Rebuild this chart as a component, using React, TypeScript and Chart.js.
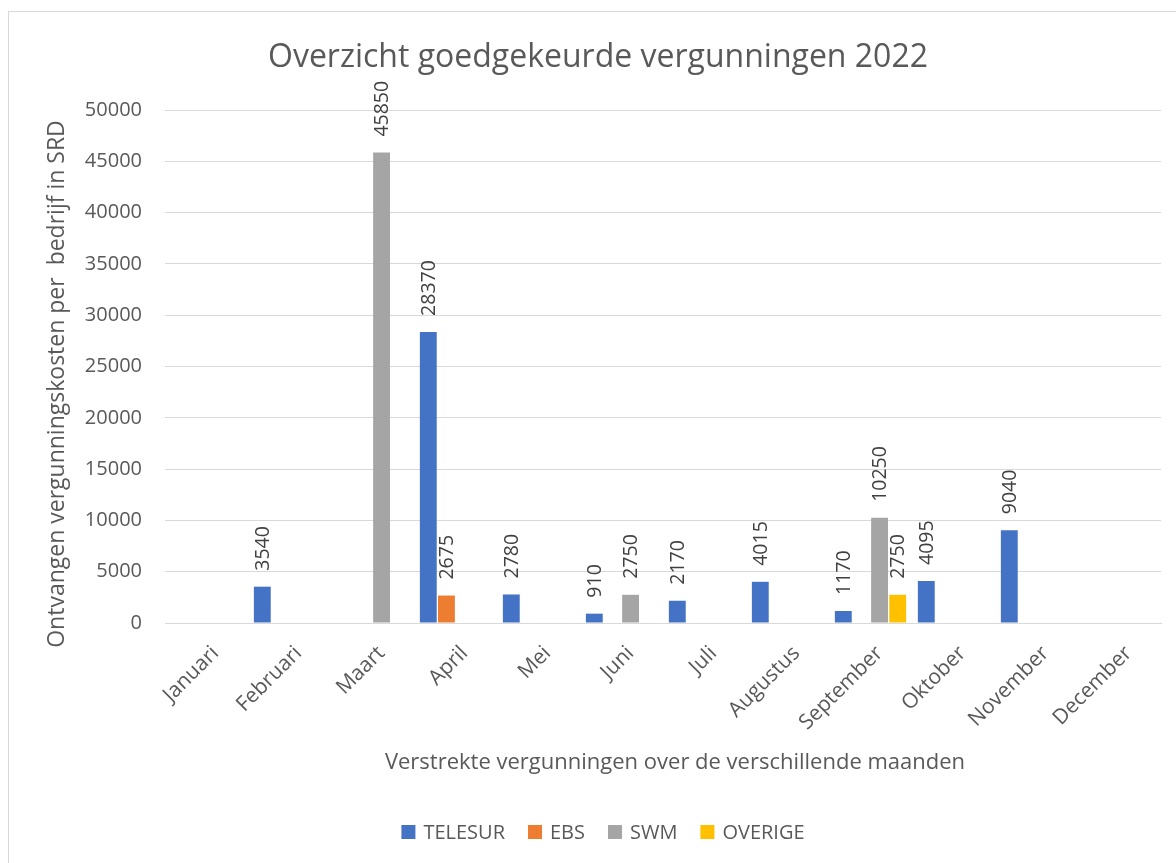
import React, { useEffect, useRef } from 'react';
import { Chart, registerables } from 'chart.js';

Chart.register(...registerables);

const months = ['Januari', 'Februari', 'Maart', 'April', 'Mei', 'Juni', 'Juli', 'Augustus', 'September', 'Oktober', 'November', 'December'];
const telesur = [null, 3540, null, 28370, 2780, 910, 2170, 4015, 1170, 4095, 9040, null];
const ebs = [null, null, null, 2675, null, null, null, null, null, null, null, null];
const swm = [null, null, 45850, null, null, 2750, null, null, 10250, null, null, null];
const overige = [null, null, null, null, null, null, null, null, 2750, null, null, null];
const seriesNames = ['TELESUR', 'EBS', 'SWM', 'OVERIGE'];
const seriesColors = ['#4472C4', '#ED7D31', '#A5A5A5', '#FFC000'];
const yMin = 0;
const yMax = 50000;
const yStep = 5000;
const chartTitle = 'Overzicht goedgekeurde vergunningen 2022';
const yTitle = 'Ontvangen vergunningskosten per  bedrijf in SRD';
const xTitle = 'Verstrekte vergunningen over de verschillende maanden';

const FONT = "'Open Sans', 'Noto Sans', sans-serif";
const TEXT = '#595959';

const decorPlugin = {
  id: 'decor',
  beforeDraw(chart: any) {
    const ctx = chart.ctx;
    ctx.save();
    ctx.fillStyle = '#FFFFFF';
    ctx.fillRect(0, 0, chart.width, chart.height);
    ctx.strokeStyle = '#D9D9D9';
    ctx.lineWidth = 1;
    ctx.strokeRect(8.5, 11.5, chart.width + 50, chart.height + 50);
    ctx.restore();
  },
  afterDraw(chart: any) {
    const ctx = chart.ctx;
    ctx.save();
    ctx.fillStyle = TEXT;
    // title
    ctx.font = `32px ${FONT}`;
    ctx.textAlign = 'center';
    ctx.textBaseline = 'alphabetic';
    ctx.fillText(chartTitle, 598, 67);
    // x title
    ctx.font = `22px ${FONT}`;
    ctx.fillText(xTitle, 675, 769);
    // y title
    ctx.save();
    ctx.font = `23px ${FONT}`;
    ctx.translate(64, 384);
    ctx.rotate(-Math.PI / 2);
    ctx.fillText(yTitle, 0, 0);
    ctx.restore();
    // legend
    ctx.font = `20px ${FONT}`;
    ctx.textAlign = 'left';
    const box = 14;
    const gapBox = 8;
    const gapItem = 23;
    const widths = seriesNames.map((n) => ctx.measureText(n).width);
    const total = widths.reduce((a, w) => a + box + gapBox + w, 0) + gapItem * (seriesNames.length - 1);
    let x = 603 - total / 2;
    seriesNames.forEach((n, i) => {
      ctx.fillStyle = seriesColors[i];
      ctx.fillRect(x, 825, box, box);
      ctx.fillStyle = TEXT;
      ctx.fillText(n, x + box + gapBox, 839);
      x += box + gapBox + widths[i] + gapItem;
    });
    ctx.restore();
  },
};

const labelPlugin = {
  id: 'barLabels',
  afterDatasetsDraw(chart: any) {
    const ctx = chart.ctx;
    ctx.save();
    ctx.font = `19.5px ${FONT}`;
    ctx.fillStyle = '#404040';
    ctx.textAlign = 'left';
    ctx.textBaseline = 'middle';
    chart.data.datasets.forEach((ds: any, di: number) => {
      const meta = chart.getDatasetMeta(di);
      meta.data.forEach((el: any, i: number) => {
        const v = ds.data[i];
        if (v === null || v === undefined) return;
        ctx.save();
        ctx.translate(el.x + 1, el.y - 16);
        ctx.rotate(-Math.PI / 2);
        ctx.fillText(String(v), 0, 0);
        ctx.restore();
      });
    });
    ctx.restore();
  },
};

export default function App() {
  const ref = useRef<HTMLCanvasElement | null>(null);
  useEffect(() => {
    if (!ref.current) return;
    const series = [telesur, ebs, swm, overige];
    const chart = new Chart(ref.current, {
      type: 'bar',
      data: {
        labels: months,
        datasets: series.map((d, i) => ({
          label: seriesNames[i],
          data: d,
          backgroundColor: seriesColors[i],
          borderWidth: 0,
          categoryPercentage: 0.874,
          barPercentage: 0.93,
        })),
      },
      options: {
        responsive: false,
        maintainAspectRatio: false,
        animation: false,
        devicePixelRatio: 1,
        events: [],
        layout: { padding: { left: 0, right: 15, top: 110, bottom: 0 } },
        plugins: {
          legend: { display: false },
          title: { display: false },
          tooltip: { enabled: false },
        },
        scales: {
          x: {
            grid: { display: false, drawTicks: false },
            border: { display: true, color: '#D9D9D9', width: 1 },
            ticks: {
              color: TEXT,
              font: { family: FONT, size: 21 },
              minRotation: 45,
              maxRotation: 45,
              padding: 18,
              labelOffset: 9,
              autoSkip: false,
            },
            afterFit(scale: any) {
              scale.height = 240;
            },
          },
          y: {
            min: yMin,
            max: yMax,
            grid: { color: '#D9D9D9', lineWidth: 1, drawTicks: false },
            border: { display: false },
            ticks: {
              stepSize: yStep,
              color: TEXT,
              font: { family: FONT, size: 20 },
              padding: 23,
              callback: (v: any) => String(v),
            },
            afterFit(scale: any) {
              scale.width = 165;
            },
          },
        },
      },
      plugins: [decorPlugin, labelPlugin],
    });
    return () => chart.destroy();
  }, []);
  return (
    <div style={{ position: 'fixed', left: 0, top: 0, width: 1176, height: 863, background: '#fff' }}>
      <canvas ref={ref} width={1176} height={863} style={{ display: 'block', width: 1176, height: 863 }} />
    </div>
  );
}
